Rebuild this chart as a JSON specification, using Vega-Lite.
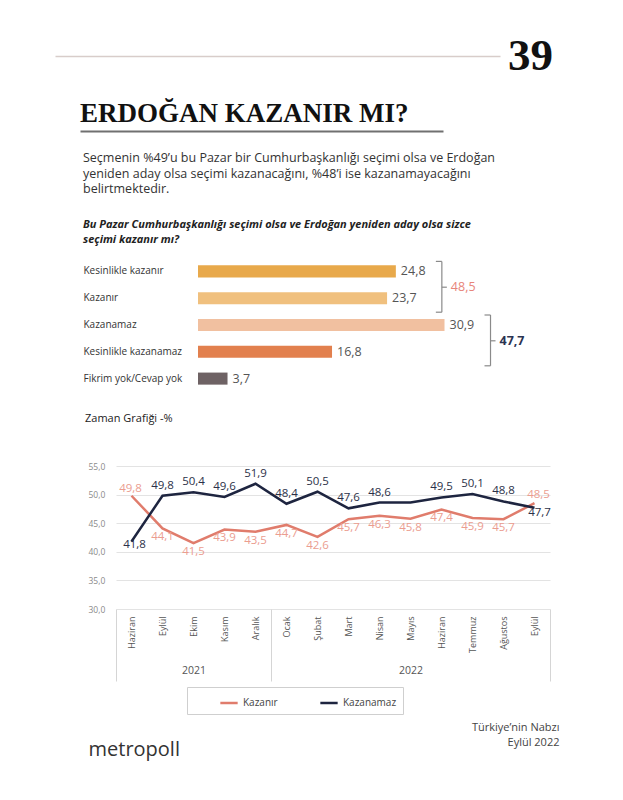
{
  "$schema": "https://vega.github.io/schema/vega-lite/v6.json",
  "background": "white",
  "padding": {"left": 55, "top": 34, "right": 10, "bottom": 10},
  "config": {
    "locale": {"number": {"decimal": ",", "thousands": ".", "grouping": [3], "currency": ["", " TL"]}},
    "view": {"stroke": null},
    "font": "Open Sans",
    "axisY": {"labelOverlap": false}
  },
  "datasets": {
    "blank": [{}],
    "bars": [
      {"cat": "Kesinlikle kazanır", "value": 24.8, "group": "Kazanır"},
      {"cat": "Kazanır", "value": 23.7, "group": "Kazanır"},
      {"cat": "Kazanamaz", "value": 30.9, "group": "Kazanamaz"},
      {"cat": "Kesinlikle kazanamaz", "value": 16.8, "group": "Kazanamaz"},
      {"cat": "Fikrim yok/Cevap yok", "value": 3.7, "group": null}
    ],
    "groups": [
      {"group": "Kazanır", "total": 48.5, "first": "Kesinlikle kazanır", "last": "Kazanır"},
      {"group": "Kazanamaz", "total": 47.7, "first": "Kazanamaz", "last": "Kesinlikle kazanamaz"}
    ],
    "trend": [
      {"key": "Haziran 2021", "series": "Kazanır", "value": 49.8},
      {"key": "Eylül 2021", "series": "Kazanır", "value": 44.1},
      {"key": "Ekim 2021", "series": "Kazanır", "value": 41.5},
      {"key": "Kasım 2021", "series": "Kazanır", "value": 43.9},
      {"key": "Aralık 2021", "series": "Kazanır", "value": 43.5},
      {"key": "Ocak 2022", "series": "Kazanır", "value": 44.7},
      {"key": "Şubat 2022", "series": "Kazanır", "value": 42.6},
      {"key": "Mart 2022", "series": "Kazanır", "value": 45.7},
      {"key": "Nisan 2022", "series": "Kazanır", "value": 46.3},
      {"key": "Mayıs 2022", "series": "Kazanır", "value": 45.8},
      {"key": "Haziran 2022", "series": "Kazanır", "value": 47.4},
      {"key": "Temmuz 2022", "series": "Kazanır", "value": 45.9},
      {"key": "Ağustos 2022", "series": "Kazanır", "value": 45.7},
      {"key": "Eylül 2022", "series": "Kazanır", "value": 48.5},
      {"key": "Haziran 2021", "series": "Kazanamaz", "value": 41.8},
      {"key": "Eylül 2021", "series": "Kazanamaz", "value": 49.8},
      {"key": "Ekim 2021", "series": "Kazanamaz", "value": 50.4},
      {"key": "Kasım 2021", "series": "Kazanamaz", "value": 49.6},
      {"key": "Aralık 2021", "series": "Kazanamaz", "value": 51.9},
      {"key": "Ocak 2022", "series": "Kazanamaz", "value": 48.4},
      {"key": "Şubat 2022", "series": "Kazanamaz", "value": 50.5},
      {"key": "Mart 2022", "series": "Kazanamaz", "value": 47.6},
      {"key": "Nisan 2022", "series": "Kazanamaz", "value": 48.6},
      {"key": "Mayıs 2022", "series": "Kazanamaz", "value": 48.6},
      {"key": "Haziran 2022", "series": "Kazanamaz", "value": 49.5},
      {"key": "Temmuz 2022", "series": "Kazanamaz", "value": 50.1},
      {"key": "Ağustos 2022", "series": "Kazanamaz", "value": 48.8},
      {"key": "Eylül 2022", "series": "Kazanamaz", "value": 47.7}
    ]
  },
  "columns": 1,
  "spacing": 21,
  "resolve": {"scale": {"color": "independent"}, "legend": {"color": "independent"}},
  "concat": [
    {
      "data": {"name": "blank"},
      "width": 445,
      "height": 0,
      "mark": {"type": "point", "opacity": 0, "size": 0},
      "encoding": {
        "x": {"datum": 0, "type": "quantitative", "scale": {"domain": [0, 1]},
          "axis": {"orient": "top", "domain": true, "domainColor": "#d8cdca", "domainWidth": 1.5, "labels": false, "ticks": false, "grid": false, "title": null}}
      },
      "title": {"text": "39", "orient": "right", "anchor": "start", "frame": "group", "angle": 0, "align": "left", "baseline": "middle", "offset": -37, "font": "Liberation Serif", "fontSize": 45, "fontWeight": "bold", "color": "#111111"}
    },
    {
      "spacing": 24,
      "resolve": {"scale": {"color": "independent"}, "legend": {"color": "independent"}},
      "hconcat": [
        {"data": {"name": "blank"}, "width": 1, "height": 1, "mark": {"type": "point", "opacity": 0, "size": 0}},
        {
          "data": {"name": "blank"},
          "width": 363,
          "height": 0,
          "mark": {"type": "point", "opacity": 0, "size": 0},
          "encoding": {
            "x": {"datum": 0, "type": "quantitative", "scale": {"domain": [0, 1]},
              "axis": {"orient": "bottom", "domain": true, "domainColor": "#707070", "domainWidth": 2, "labels": false, "ticks": false, "grid": false, "title": null}}
          },
          "title": {"text": "ERDOĞAN KAZANIR MI?", "anchor": "start", "frame": "bounds", "offset": -17, "font": "Liberation Serif", "fontSize": 27, "fontWeight": "bold", "color": "#111111"}
        }
      ]
    },
    {
      "spacing": 27,
      "resolve": {"scale": {"color": "independent"}, "legend": {"color": "independent"}},
      "hconcat": [
        {"data": {"name": "blank"}, "width": 1, "height": 1, "mark": {"type": "point", "opacity": 0, "size": 0}},
        {
          "width": 359,
          "height": 134,
          "title": {
            "text": ["Seçmenin %49’u bu Pazar bir Cumhurbaşkanlığı seçimi olsa ve Erdoğan", "yeniden aday olsa seçimi kazanacağını, %48’i ise kazanamayacağını", "belirtmektedir."],
            "subtitle": ["Bu Pazar Cumhurbaşkanlığı seçimi olsa ve Erdoğan yeniden aday olsa sizce", "seçimi kazanır mı?"],
            "anchor": "start", "frame": "bounds", "fontSize": 12.5, "fontWeight": "normal", "color": "#333333", "lineHeight": 15.7,
            "subtitleFontSize": 11, "subtitleFontStyle": "italic", "subtitleFontWeight": "bold", "subtitleColor": "#222222", "subtitleLineHeight": 15, "subtitlePadding": 23, "offset": 13
          },
          "layer": [
            {
              "data": {"name": "bars"},
              "mark": {"type": "bar"},
              "encoding": {
                "y": {"field": "cat", "type": "nominal", "sort": null,
                  "scale": {"domain": ["Kesinlikle kazanır", "Kazanır", "Kazanamaz", "Kesinlikle kazanamaz", "Fikrim yok/Cevap yok"], "paddingInner": 0.55, "paddingOuter": 0.275},
                  "axis": {"title": null, "ticks": false, "domain": false, "labelAlign": "left", "labelPadding": 115, "labelFontSize": 10, "labelColor": "#333333", "labelLimit": 200}},
                "x": {"field": "value", "type": "quantitative", "scale": {"domain": [0, 45], "nice": false}, "axis": null},
                "color": {"field": "cat", "type": "nominal",
                  "scale": {"domain": ["Kesinlikle kazanır", "Kazanır", "Kazanamaz", "Kesinlikle kazanamaz", "Fikrim yok/Cevap yok"], "range": ["#E8A94B", "#F0C07E", "#F1C0A0", "#E2804E", "#6E6264"]},
                  "legend": null}
              }
            },
            {
              "data": {"name": "bars"},
              "mark": {"type": "text", "align": "left", "baseline": "middle", "dx": 5, "fontSize": 12.5, "color": "#555555"},
              "encoding": {
                "y": {"field": "cat", "type": "nominal", "sort": null, "axis": {"title": null}},
                "x": {"field": "value", "type": "quantitative"},
                "text": {"field": "value", "type": "quantitative", "format": ".1f"}
              }
            },
            {
              "data": {"name": "bars"},
              "transform": [
                {"filter": "isValid(datum.group)"},
                {"aggregate": [{"op": "max", "field": "value", "as": "m"}], "groupby": ["group"]},
                {"lookup": "group", "from": {"data": {"name": "groups"}, "key": "group", "fields": ["first", "last", "total"]}}
              ],
              "layer": [
                {
                  "mark": {"type": "rule", "color": "#8a8a8a", "strokeWidth": 1.2, "xOffset": 46, "yOffset": -10, "y2Offset": 14},
                  "encoding": {
                    "x": {"field": "m", "type": "quantitative"},
                    "y": {"field": "first", "type": "nominal", "axis": {"title": null}},
                    "y2": {"field": "last"}
                  }
                },
                {
                  "mark": {"type": "rule", "color": "#8a8a8a", "strokeWidth": 1.2, "xOffset": 40, "x2Offset": 46, "yOffset": -10},
                  "encoding": {
                    "x": {"field": "m", "type": "quantitative"},
                    "x2": {"field": "m"},
                    "y": {"field": "first", "type": "nominal", "axis": {"title": null}}
                  }
                },
                {
                  "mark": {"type": "rule", "color": "#8a8a8a", "strokeWidth": 1.2, "xOffset": 40, "x2Offset": 46, "yOffset": 14},
                  "encoding": {
                    "x": {"field": "m", "type": "quantitative"},
                    "x2": {"field": "m"},
                    "y": {"field": "last", "type": "nominal", "axis": {"title": null}}
                  }
                },
                {
                  "mark": {"type": "rule", "color": "#8a8a8a", "strokeWidth": 1.2, "xOffset": 46, "x2Offset": 51, "yOffset": -11},
                  "encoding": {
                    "x": {"field": "m", "type": "quantitative"},
                    "x2": {"field": "m"},
                    "y": {"field": "last", "type": "nominal", "axis": {"title": null}}
                  }
                },
                {
                  "transform": [{"filter": "datum.group == 'Kazanır'"}],
                  "mark": {"type": "text", "align": "left", "baseline": "middle", "dx": 55, "dy": -11, "fontSize": 12.5, "color": "#E8857A"},
                  "encoding": {
                    "x": {"field": "m", "type": "quantitative"},
                    "y": {"field": "last", "type": "nominal", "axis": {"title": null}},
                    "text": {"field": "total", "type": "quantitative", "format": ".1f"}
                  }
                },
                {
                  "transform": [{"filter": "datum.group == 'Kazanamaz'"}],
                  "mark": {"type": "text", "align": "left", "baseline": "middle", "dx": 55, "dy": -11, "fontSize": 12.5, "fontWeight": "bold", "color": "#2B3352"},
                  "encoding": {
                    "x": {"field": "m", "type": "quantitative"},
                    "y": {"field": "last", "type": "nominal", "axis": {"title": null}},
                    "text": {"field": "total", "type": "quantitative", "format": ".1f"}
                  }
                }
              ]
            }
          ]
        }
      ]
    },
    {
      "spacing": 29,
      "resolve": {"scale": {"color": "independent"}, "legend": {"color": "independent"}},
      "hconcat": [
        {"data": {"name": "blank"}, "width": 1, "height": 1, "mark": {"type": "point", "opacity": 0, "size": 0}},
        {
          "spacing": 6,
          "resolve": {"scale": {"color": "independent"}, "legend": {"color": "independent"}},
          "vconcat": [
            {
              "width": 434,
              "height": 143,
              "title": {"text": "Zaman Grafiği -%", "anchor": "start", "frame": "bounds", "dx": -3, "fontSize": 11, "fontWeight": "normal", "color": "#222222", "offset": 38},
              "resolve": {"scale": {"x": "independent"}, "axis": {"x": "independent"}},
              "layer": [
                {
                  "data": {"name": "trend"},
                  "encoding": {
                    "x": {"field": "key", "type": "ordinal", "sort": null,
                      "scale": {"type": "point", "padding": 0.5, "domain": ["Haziran 2021", "Eylül 2021", "Ekim 2021", "Kasım 2021", "Aralık 2021", "Ocak 2022", "Şubat 2022", "Mart 2022", "Nisan 2022", "Mayıs 2022", "Haziran 2022", "Temmuz 2022", "Ağustos 2022", "Eylül 2022"]},
                      "axis": {"orient": "bottom", "labelExpr": "split(datum.value, ' ')[0]", "labelAngle": -90, "labelFontSize": 9, "labelColor": "#555555", "labelPadding": 7, "ticks": false, "domain": false, "grid": false, "title": null}},
                    "y": {"field": "value", "type": "quantitative",
                      "scale": {"domain": [30, 55], "nice": false, "zero": false},
                      "axis": {"values": [30, 35, 40, 45, 50, 55], "format": ".1f", "labelAlign": "left", "labelPadding": 28, "labelFontSize": 8.5, "labelColor": "#8a8a8a", "labelOverlap": false, "ticks": false, "domain": false, "gridColor": "#e3e3e3", "title": null}}
                  },
                  "layer": [
                    {
                      "mark": {"type": "line", "strokeWidth": 2.5},
                      "encoding": {
                        "color": {"field": "series", "type": "nominal",
                          "scale": {"domain": ["Kazanır", "Kazanamaz"], "range": ["#E07C6C", "#1E2540"]},
                          "legend": {"title": null, "orient": "none", "legendX": 71, "legendY": 221, "direction": "horizontal", "symbolType": "stroke", "symbolStrokeWidth": 2.5, "symbolSize": 300, "labelFontSize": 10, "labelColor": "#444444", "strokeColor": "#cfcfcf", "fillColor": "white", "padding": 6, "columnPadding": 15, "symbolOffset": 26}}
                      }
                    },
                    {
                      "transform": [{"filter": "datum.series == 'Kazanamaz' && datum.key != 'Haziran 2021' && datum.key != 'Eylül 2022' && datum.key != 'Mayıs 2022'"}],
                      "mark": {"type": "text", "baseline": "middle", "dy": -10, "fontSize": 11.5, "color": "#2B3148"},
                      "encoding": {"text": {"field": "value", "type": "quantitative", "format": ".1f"}}
                    },
                    {
                      "transform": [{"filter": "datum.series == 'Kazanamaz' && datum.key == 'Haziran 2021'"}],
                      "mark": {"type": "text", "baseline": "middle", "dx": 3, "dy": 3, "fontSize": 11.5, "color": "#2B3148"},
                      "encoding": {"text": {"field": "value", "type": "quantitative", "format": ".1f"}}
                    },
                    {
                      "transform": [{"filter": "datum.series == 'Kazanamaz' && datum.key == 'Eylül 2022'"}],
                      "mark": {"type": "text", "baseline": "middle", "dx": 5, "dy": 5, "fontSize": 11.5, "color": "#2B3148"},
                      "encoding": {"text": {"field": "value", "type": "quantitative", "format": ".1f"}}
                    },
                    {
                      "transform": [{"filter": "datum.series == 'Kazanır' && datum.key != 'Haziran 2021' && datum.key != 'Eylül 2022'"}],
                      "mark": {"type": "text", "baseline": "middle", "dy": 9, "fontSize": 11.5, "color": "#EB9D90"},
                      "encoding": {"text": {"field": "value", "type": "quantitative", "format": ".1f"}}
                    },
                    {
                      "transform": [{"filter": "datum.series == 'Kazanır' && datum.key == 'Haziran 2021'"}],
                      "mark": {"type": "text", "baseline": "middle", "dx": -1, "dy": -7, "fontSize": 11.5, "color": "#EB9D90"},
                      "encoding": {"text": {"field": "value", "type": "quantitative", "format": ".1f"}}
                    },
                    {
                      "transform": [{"filter": "datum.series == 'Kazanır' && datum.key == 'Eylül 2022'"}],
                      "mark": {"type": "text", "baseline": "middle", "dx": 4, "dy": -8, "fontSize": 11.5, "color": "#EB9D90"},
                      "encoding": {"text": {"field": "value", "type": "quantitative", "format": ".1f"}}
                    }
                  ]
                },
                {
                  "data": {"name": "blank"},
                  "mark": {"type": "point", "opacity": 0, "size": 0},
                  "encoding": {
                    "x": {"datum": 7, "type": "quantitative", "scale": {"domain": [0, 14], "nice": false, "zero": false},
                      "axis": {"orient": "bottom", "values": [0, 2.5, 5, 9.5, 14], "tickSize": 72, "tickWidth": 1,
                        "tickColor": {"condition": {"test": "datum.value == 2.5 || datum.value == 9.5", "value": "transparent"}, "value": "#d5d5d5"},
                        "labelExpr": "datum.value == 2.5 ? '2021' : datum.value == 9.5 ? '2022' : ''",
                        "labelPadding": -16, "labelFontSize": 10.5, "labelColor": "#555555", "labelFlush": false, "labelOverlap": false,
                        "domain": false, "grid": false, "title": null}}
                  }
                }
              ]
            },
            {
              "data": {"name": "blank"},
              "width": 443,
              "height": 0,
              "mark": {"type": "point", "opacity": 0, "size": 0},
              "encoding": {
                "x": {"datum": 0, "type": "quantitative", "scale": {"domain": [0, 1]},
                  "axis": {"orient": "top", "domain": false, "labels": false, "ticks": false, "grid": false,
                    "title": ["Türkiye’nin Nabzı", "Eylül 2022"], "titleAnchor": "end", "titleAlign": "right", "titlePadding": 0,
                    "titleFontSize": 11, "titleFontWeight": "normal", "titleColor": "#444444", "titleLineHeight": 15}},
                "y": {"datum": 0, "type": "quantitative", "scale": {"domain": [0, 1]},
                  "axis": {"orient": "left", "domain": false, "labels": false, "ticks": false, "grid": false,
                    "title": "metropoll", "titleAngle": 0, "titleX": -28, "titleY": 8, "titleAlign": "left", "titleBaseline": "alphabetic",
                    "titleFontSize": 20, "titleFontWeight": "normal", "titleColor": "#333333"}}
              }
            }
          ]
        }
      ]
    }
  ]
}
